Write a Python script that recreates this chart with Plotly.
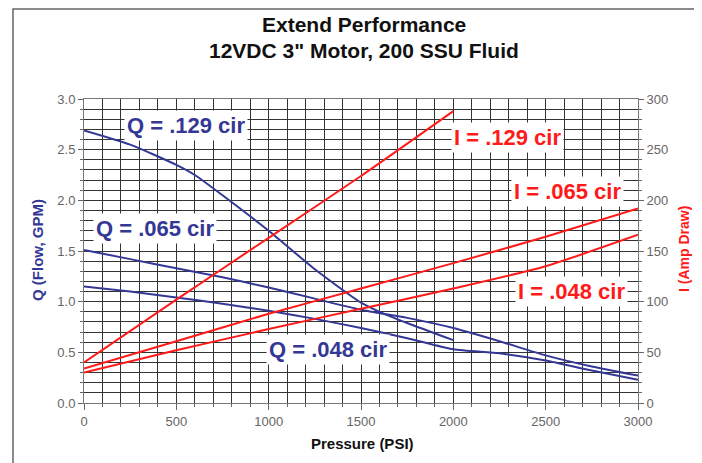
import plotly.graph_objects as go

# ---- data ----
pressure_q129 = [0, 250, 500, 600, 750, 1000, 1250, 1500, 1600, 1750, 2000]
flow_q129 = [2.69, 2.55, 2.35, 2.25, 2.05, 1.70, 1.32, 0.99, 0.90, 0.79, 0.62]

pressure_q = [0, 250, 500, 750, 1000, 1250, 1500, 1750, 2000, 2250, 2500, 2750, 3000]
flow_q065 = [1.51, 1.42, 1.33, 1.24, 1.14, 1.03, 0.92, 0.84, 0.74, 0.61, 0.47, 0.36, 0.27]
flow_q048 = [1.15, 1.10, 1.04, 0.98, 0.91, 0.83, 0.74, 0.64, 0.53, 0.49, 0.42, 0.32, 0.23]

pressure_i129 = [0, 500, 1000, 1500, 2000]
amps_i129 = [40, 102, 163, 224, 288]

pressure_i = [0, 500, 1000, 1500, 2000, 2500, 3000]
amps_i065 = [34, 61, 88, 113, 138, 164, 192]
amps_i048 = [30, 52, 73, 93, 113, 135, 166]

x_ticks = [0, 500, 1000, 1500, 2000, 2500, 3000]
y_ticks = [0.0, 0.5, 1.0, 1.5, 2.0, 2.5, 3.0]
y2_ticks = [0, 50, 100, 150, 200, 250, 300]

title_line1 = "Extend Performance"
title_line2 = '12VDC 3" Motor, 200 SSU Fluid'

BLUE = "#343894"
RED = "#FF1A1A"
FONT = "Arial, Liberation Sans, sans-serif"
TICKC = "#666666"

fig = go.Figure()

def qline(x, y):
    fig.add_trace(go.Scatter(x=x, y=y, mode="lines", yaxis="y",
                             line=dict(color=BLUE, width=2, shape="spline", smoothing=0.6),
                             showlegend=False, hoverinfo="skip"))

def iline(x, y):
    fig.add_trace(go.Scatter(x=x, y=y, mode="lines", yaxis="y2",
                             line=dict(color=RED, width=2, shape="spline", smoothing=0.6),
                             showlegend=False, hoverinfo="skip"))

qline(pressure_q129, flow_q129)
qline(pressure_q, flow_q065)
qline(pressure_q, flow_q048)
iline(pressure_i129, amps_i129)
iline(pressure_i, amps_i065)
iline(pressure_i, amps_i048)

GRID = "#333333"
# page body has an 8px margin, so margins are set to land the plot area at x 84-638, y 99-403
fig.update_layout(
    width=702, height=463,
    margin=dict(l=76, r=72, t=91, b=68),
    paper_bgcolor="white", plot_bgcolor="white",
    font=dict(family=FONT, size=12, color=TICKC),
    xaxis=dict(range=[0, 3000], tickvals=x_ticks, ticktext=[str(v) for v in x_ticks],
               showgrid=True, gridcolor=GRID, gridwidth=1,
               minor=dict(dtick=100, showgrid=True, gridcolor=GRID, gridwidth=1,
                          ticks="outside", ticklen=3, tickcolor="#666"),
               ticks="outside", ticklen=6, tickcolor="#666",
               showline=True, linecolor="#777", linewidth=1, mirror=True,
               zeroline=False, tickfont=dict(size=13, color=TICKC)),
    yaxis=dict(range=[0, 3.0], tickvals=y_ticks, ticktext=["%.1f" % v for v in y_ticks],
               showgrid=True, gridcolor=GRID, gridwidth=1,
               minor=dict(dtick=0.1, showgrid=True, gridcolor=GRID, gridwidth=1,
                          ticks="outside", ticklen=3, tickcolor="#666"),
               ticks="outside", ticklen=5, tickcolor="#666",
               showline=True, linecolor="#777", linewidth=1,
               zeroline=False, tickfont=dict(size=13, color=TICKC)),
    yaxis2=dict(range=[0, 300], tickvals=y2_ticks, ticktext=[str(v) for v in y2_ticks],
                overlaying="y", side="right", showgrid=False,
                minor=dict(dtick=10, ticks="outside", ticklen=3, tickcolor="#666"),
                ticks="outside", ticklen=5, tickcolor="#666",
                showline=True, linecolor="#777", linewidth=1,
                zeroline=False, tickfont=dict(size=13, color=TICKC)),
)

# outer chart frame
fig.add_shape(type="rect", xref="paper", yref="paper",
              x0=(13 - 84) / 554, x1=(699 - 84) / 554,
              y0=(403 - 480) / 304, y1=(403 - 9) / 304,
              line=dict(color="#666666", width=1.5), layer="below")

def paper_note(text, px, py, size, color, angle=0):
    fig.add_annotation(text=text, xref="paper", yref="paper",
                       x=(px - 84) / 554, y=(403 - py) / 304,
                       xanchor="center", yanchor="middle", showarrow=False,
                       textangle=angle, font=dict(size=size, color=color, family=FONT))

# titles
paper_note("<b>%s</b>" % title_line1, 364, 25, 21, "#111111")
paper_note("<b>%s</b>" % title_line2, 364, 51, 21, "#111111")
paper_note("<b>Pressure (PSI)</b>", 362, 443, 15, "#111111")
paper_note("<b>Q (Flow, GPM)</b>", 37, 250, 15, BLUE, -90)
paper_note("<b>I (Amp Draw)</b>", 684, 249, 14, RED, -90)

# series labels
labels = [
    ("Q = .129 cir", 552, 2.74, BLUE),
    ("Q = .065 cir", 384, 1.72, BLUE),
    ("Q = .048 cir", 1321, 0.525, BLUE),
    ("I = .129 cir", 2296, 2.62, RED),
    ("I = .065 cir", 2620, 2.09, RED),
    ("I = .048 cir", 2642, 1.10, RED),
]
for txt, lx, ly, col in labels:
    fig.add_annotation(text="<b>%s</b>" % txt, x=lx, y=ly, xref="x", yref="y",
                       xanchor="center", yanchor="middle",
                       showarrow=False, bgcolor="white", borderpad=2,
                       font=dict(size=22, color=col, family=FONT))

fig.write_html("out.html")
